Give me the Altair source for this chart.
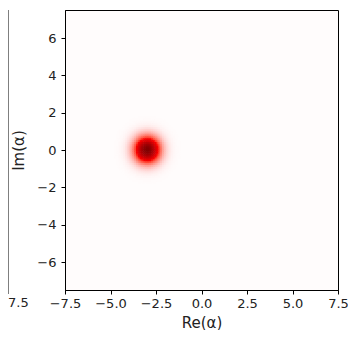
import altair as alt
import numpy as np
import pandas as pd

# Coherent-state quasi-probability blob
center_re = -3.0
center_im = 0.0
axis_range = [-7.5, 7.5]
x_ticks = [-7.5, -5.0, -2.5, 0.0, 2.5, 5.0, 7.5]
y_ticks = [-6, -4, -2, 0, 2, 4, 6]
grid_step = 0.1
cut_radius = 2.3

# grid of cells around the blob (values ~0 elsewhere -> white background)
xs = np.arange(axis_range[0], axis_range[1], grid_step)
ys = np.arange(axis_range[0], axis_range[1], grid_step)
rows = []
for xv in xs:
    for yv in ys:
        cx, cy = xv + grid_step / 2, yv + grid_step / 2
        r2 = (cx - center_re) ** 2 + (cy - center_im) ** 2
        if r2 <= cut_radius ** 2:
            rows.append({
                "x": xv, "x2": xv + grid_step * 1.3,
                "y": yv, "y2": yv + grid_step * 1.3,
                "w": float(np.exp(-2 * r2)),
            })
df = pd.DataFrame(rows)

color_scale = alt.Scale(domain=[0, 0.5, 1.0],
                        range=["#fffcfc", "#ff0000", "#800000"],
                        clamp=True)

heat = alt.Chart(df).mark_rect(strokeWidth=0).encode(
    x=alt.X("x:Q", scale=alt.Scale(domain=axis_range, nice=False, zero=False),
            axis=alt.Axis(values=x_ticks, format=".1f", title="Re(α)",
                          titlePadding=5, labelPadding=3,
                          labelOverlap=False, labelFlush=False)),
    x2="x2:Q",
    y=alt.Y("y:Q", scale=alt.Scale(domain=axis_range, nice=False, zero=False),
            axis=alt.Axis(values=y_ticks, format="d", title="Im(α)",
                          titlePadding=10, labelPadding=5,
                          labelOverlap=False, labelFlush=False)),
    y2="y2:Q",
    color=alt.Color("w:Q", scale=color_scale, legend=None),
    order=alt.Order("w:Q"),
)

one = pd.DataFrame({"a": [0]})
# fragment of the neighbouring panel on the left
left_edge = alt.Chart(one).mark_rule(color="black", strokeWidth=1).encode(
    x=alt.value(-57), y=alt.value(0), y2=alt.value(280))
left_tick = alt.Chart(one).mark_rule(color="black", strokeWidth=1).encode(
    x=alt.value(-57), y=alt.value(280), y2=alt.value(284))
left_label = alt.Chart(one).mark_text(
    text="7.5", font="DejaVu Sans", fontSize=13, align="left",
    baseline="top", color="#222222").encode(
    x=alt.value(-57), y=alt.value(287))

chart = alt.layer(heat, left_edge, left_tick, left_label).properties(
    width=273, height=280,
    autosize=alt.AutoSizeParams(type="none"),
    padding={"left": 57, "top": 2, "right": 10, "bottom": 40},
).configure_view(
    stroke="black", strokeWidth=1, fill="#fffcfc"
).configure_axis(
    labelFont="DejaVu Sans", titleFont="DejaVu Sans",
    labelFontSize=13, titleFontSize=15, titleFontWeight="normal",
    labelColor="#222222", titleColor="#222222",
    tickColor="black", tickSize=4, domainColor="black", grid=False,
)

chart.save("out.html", embed_options={"renderer": "svg", "actions": False})
